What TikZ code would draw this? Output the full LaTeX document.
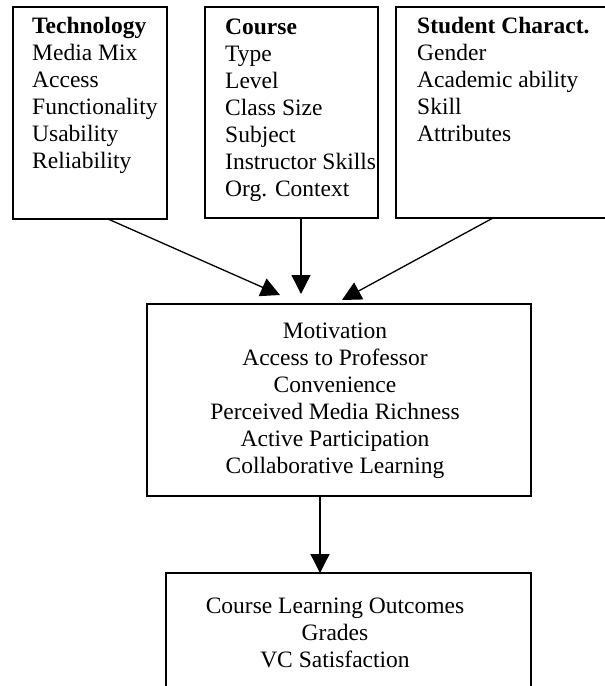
\documentclass[tikz,border=0pt]{standalone}
\usepackage{fontspec}
\setmainfont{Liberation Serif}
\usetikzlibrary{arrows.meta}
\begin{document}
\begin{tikzpicture}[x=1pt,y=-1pt,
  box/.style={draw=black,line width=1.5pt},
  txt/.style={inner sep=0pt,font=\fontsize{23.5}{27}\selectfont},
  arr/.style={line width=1.3pt,-{Triangle[length=19pt,width=19pt]}}]
\useasboundingbox (0,0) rectangle (605,686);
% boxes
\draw[box] (13,7) rectangle (167,219);
\node[inner sep=0pt] (tech) at (90,113) {};
\draw[box] (205,7) rectangle (378,218);
\node[inner sep=0pt] (course) at (291.5,112.5) {};
\draw[box] (396,7) rectangle (615,218);
\node[inner sep=0pt] (student) at (505,112.5) {};
\draw[box] (147,304) rectangle (531,496);
\node[inner sep=0pt] (mid) at (339,400) {};
\draw[box] (166,573) rectangle (531,700);
\node[inner sep=0pt] (out) at (348.5,636) {};
% texts (anchored at the baseline of the last line)
\node[txt,anchor=base west,align=left] (techtxt) at (32,168)
  {\textbf{Technology}\\Media Mix\\Access\\Functionality\\Usability\\Reliability};
\node[txt,anchor=base west,align=left] (coursetxt) at (225,196)
  {\textbf{Course}\\Type\\Level\\Class Size\\Subject\\Instructor Skills\\Org. Context};
\node[txt,anchor=base west,align=left] (studenttxt) at (417,141)
  {\textbf{Student Charact.}\\Gender\\Academic ability\\Skill\\Attributes};
\node[txt,anchor=base,align=center] (midtxt) at (335,473)
  {Motivation\\Access to Professor\\Convenience\\Perceived Media Richness\\Active Participation\\Collaborative Learning};
\node[txt,anchor=base,align=center] (outtxt) at (335,667)
  {Course Learning Outcomes\\Grades\\VC Satisfaction};
% connectors
\coordinate (techs) at (108,219);
\coordinate (courses) at (301,218);
\coordinate (students) at (493,218);
\coordinate (midl) at (280,295);
\coordinate (midc) at (301,294);
\coordinate (midr) at (342,300);
\coordinate (mids) at (320,496);
\coordinate (outn) at (320,573);
\draw[arr] (techs) -- (midl);
\draw[arr] (courses) -- (midc);
\draw[arr] (students) -- (midr);
\draw[arr] (mids) -- (outn);
\end{tikzpicture}
\end{document}
